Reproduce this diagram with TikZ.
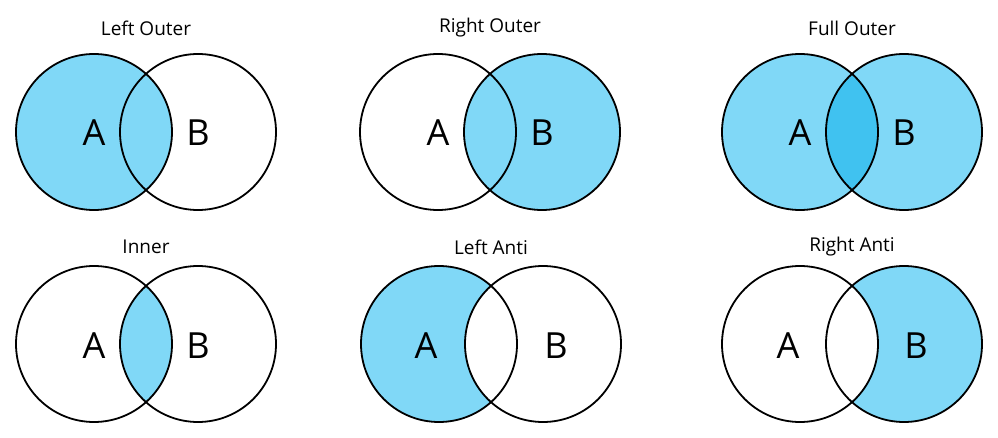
\documentclass[tikz,border=0pt]{standalone}
\usepackage{fontspec}
\setmainfont{Open Sans}
\definecolor{fillb}{HTML}{80D8F7}
\definecolor{filld}{HTML}{40C2F0}
\tikzset{circ/.style={draw=black,line width=1.8pt},
lab/.style={font=\fontsize{36}{40}\selectfont},
ttl/.style={font=\fontsize{19}{22}\selectfont}}
\begin{document}
\begin{tikzpicture}[x=1pt,y=-1pt]
\useasboundingbox (0,0) rectangle (998,438);
\def\R{78}
% Left Outer
\fill[fillb] (94,132) circle (\R);
% Right Outer
\fill[fillb] (542,132) circle (\R);
% Full Outer
\fill[fillb] (800,132) circle (\R);
\fill[fillb] (904,132) circle (\R);
\begin{scope}\clip (800,132) circle (\R); \fill[filld] (904,132) circle (\R);\end{scope}
% Inner
\begin{scope}\clip (94,344) circle (\R); \fill[fillb] (198,344) circle (\R);\end{scope}
% Left anti
\fill[fillb] (439,344) circle (\R);
\fill[white] (543,344) circle (\R);
% Right anti
\fill[fillb] (904,344) circle (\R);
\fill[white] (800,344) circle (\R);
% outlines
\foreach \x/\y in {94/132,198/132,438/132,542/132,800/132,904/132,94/344,198/344,439/344,543/344,800/344,904/344}
  \draw[circ] (\x,\y) circle (\R);
\node[ttl] (t1) at (146,28) {Left Outer};
\node[ttl] (t2) at (490,28) {Right Outer};
\node[ttl] (t3) at (852,28) {Full Outer};
\node[ttl] (t4) at (146,247) {Inner};
\node[ttl] (t5) at (491,247) {Left Anti};
\node[ttl] (t6) at (852,247) {Right Anti};
\node[lab] (a1) at (94,133) {A}; \node[lab] (b1) at (198,133) {B};
\node[lab] (a2) at (438,133) {A}; \node[lab] (b2) at (542,133) {B};
\node[lab] (a3) at (800,133) {A}; \node[lab] (b3) at (904,133) {B};
\node[lab] (a4) at (94,346) {A}; \node[lab] (b4) at (198,346) {B};
\node[lab] (a5) at (426,346) {A}; \node[lab] (b5) at (556,346) {B};
\node[lab] (a6) at (788,346) {A}; \node[lab] (b6) at (916,346) {B};
\end{tikzpicture}
\end{document}
